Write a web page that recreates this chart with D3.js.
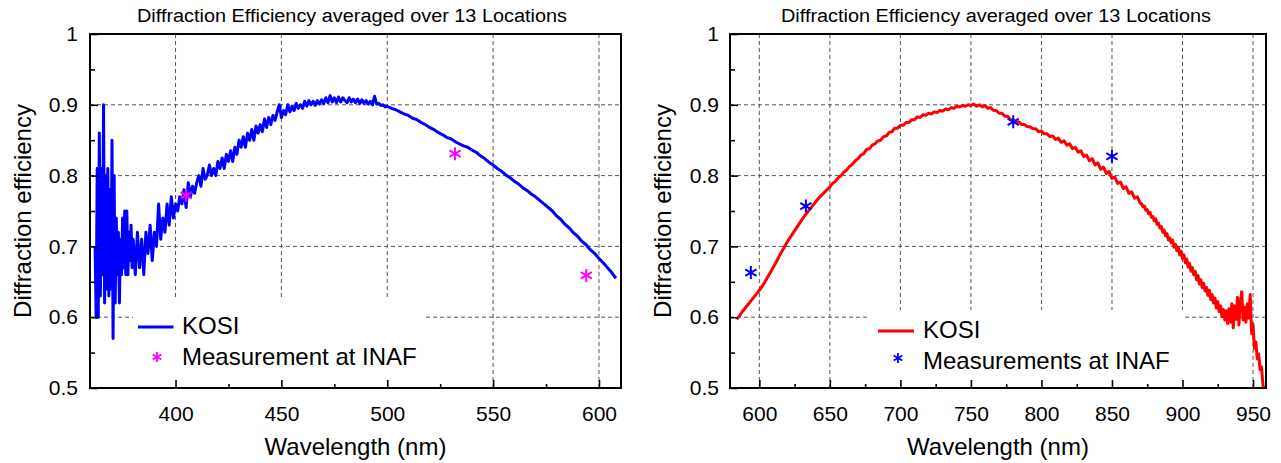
<!DOCTYPE html>
<html><head><meta charset="utf-8">
<script src="https://cdn.jsdelivr.net/npm/d3@7"></script>
<style>
html,body{margin:0;padding:0;background:#fff;}
svg{display:block;}
text{font-family:"Liberation Sans",Arial,sans-serif;fill:#000;}
</style></head><body>
<svg id="chart" width="1281" height="463"></svg>
<script>
// ---------------- DATA ----------------
// Left panel (visible grating): KOSI curve, sampled on a regular wavelength grid
// 362–380 nm, 0.5 nm step
const kosiVisNoisy = [0.70,0.60,0.81,0.60,0.86,0.63,0.81,0.66,0.90,0.62,0.80,0.64,0.81,0.63,0.78,0.64,0.85,0.57,0.80,0.62,
  0.74,0.66,0.72,0.62,0.71,0.66,0.74,0.67,0.75,0.66,0.75,0.66,0.72,0.68,0.73,0.67,0.71];
// 381–500 nm, 1 nm step
const kosiVisMid = [0.66,0.72,0.67,0.71,0.66,0.72,0.69,0.73,0.68,0.72,0.70,0.76,0.71,0.74,0.72,0.76,0.73,0.77,0.74,0.76,
  0.75,0.77,0.76,0.78,0.755,0.79,0.77,0.785,0.775,0.79,0.80,0.785,0.81,0.795,0.80,0.815,0.80,0.81,0.80,0.82,
  0.81,0.825,0.81,0.83,0.82,0.835,0.82,0.84,0.83,0.85,0.84,0.855,0.84,0.86,0.85,0.865,0.85,0.87,0.86,0.872,
  0.862,0.88,0.868,0.882,0.872,0.885,0.878,0.89,0.90,0.882,0.892,0.886,0.90,0.89,0.898,0.892,0.902,0.895,0.9,0.895,
  0.905,0.898,0.906,0.9,0.905,0.899,0.906,0.901,0.907,0.902,0.91,0.903,0.913,0.904,0.91,0.903,0.911,0.904,0.91,0.906,
  0.903,0.91,0.904,0.908,0.903,0.908,0.902,0.907,0.902,0.906,0.901,0.905,0.900,0.912,0.901,0.902,0.899,0.900,0.897,0.898];
// 502–608 nm, 2 nm step
const kosiVisTail = [0.895,0.893,0.890,0.887,0.885,0.881,0.879,0.875,0.872,0.868,0.865,0.861,0.858,0.854,0.852,0.848,0.845,0.842,0.840,0.836,
  0.833,0.828,0.824,0.819,0.815,0.810,0.806,0.801,0.797,0.792,0.788,0.783,0.779,0.774,0.770,0.765,0.760,0.755,0.750,0.743,
  0.738,0.731,0.726,0.719,0.714,0.707,0.702,0.695,0.690,0.683,0.677,0.670,0.663,0.655];
const inafVisWl = [405, 532, 594];
const inafVisDE = [0.772, 0.831, 0.659];

// Right panel (NIR grating)
// 584–870 nm, 2 nm step
const kosiNirBody = [0.597,0.602,0.608,0.613,0.618,0.623,0.628,0.633,0.638,0.644,0.650,0.657,0.664,0.671,0.678,0.686,0.693,0.700,0.707,0.713,
  0.719,0.725,0.731,0.737,0.743,0.748,0.753,0.758,0.763,0.768,0.772,0.776,0.780,0.784,0.789,0.792,0.797,0.800,0.805,0.808,
  0.813,0.816,0.821,0.824,0.829,0.831,0.837,0.838,0.843,0.845,0.849,0.850,0.855,0.856,0.861,0.862,0.867,0.867,0.871,0.871,
  0.875,0.875,0.879,0.879,0.883,0.882,0.886,0.885,0.888,0.887,0.890,0.889,0.892,0.891,0.894,0.893,0.896,0.895,0.898,0.897,
  0.899,0.898,0.900,0.899,0.901,0.898,0.900,0.897,0.899,0.895,0.896,0.892,0.892,0.888,0.888,0.884,0.884,0.879,0.879,0.875,
  0.876,0.872,0.872,0.869,0.869,0.866,0.866,0.862,0.863,0.859,0.859,0.855,0.856,0.851,0.853,0.847,0.849,0.843,0.845,0.838,
  0.840,0.833,0.835,0.827,0.829,0.821,0.824,0.815,0.818,0.809,0.812,0.803,0.806,0.796,0.798,0.789,0.791,0.782,0.784,0.775,
  0.777,0.768,0.770,0.761];
// 871–958 nm, 1 nm step
const kosiNirTail = [0.760,0.756,0.757,0.751,0.752,0.746,0.748,0.741,0.742,0.736,0.739,0.731,0.733,0.726,0.728,0.720,0.723,0.715,0.718,0.709,
  0.712,0.705,0.709,0.699,0.703,0.694,0.699,0.688,0.693,0.683,0.688,0.677,0.682,0.671,0.676,0.665,0.670,0.660,0.665,0.653,
  0.659,0.647,0.653,0.642,0.648,0.637,0.642,0.631,0.638,0.625,0.632,0.620,0.627,0.613,0.622,0.608,0.616,0.601,0.611,0.596,
  0.609,0.591,0.612,0.593,0.619,0.585,0.616,0.597,0.628,0.589,0.621,0.636,0.596,0.614,0.593,0.619,0.599,0.632,0.577,0.590,
  0.556,0.565,0.541,0.548,0.526,0.530,0.506,0.490];
const inafNirWl = [594, 633, 780, 850];
const inafNirDE = [0.663, 0.757, 0.876, 0.827];

// Ticks and labels
const yMajor = [0.5, 0.6, 0.7, 0.8, 0.9, 1];
const yMinor = [0.55, 0.65, 0.75, 0.85, 0.95];
const yGrid = [0.6, 0.7, 0.8, 0.9];
const xMajorVis = [400, 450, 500, 550, 600];
const xMinorVis = [425, 475, 525, 575];
const xMajorNir = [600, 650, 700, 750, 800, 850, 900, 950];
const xMinorNir = [625, 675, 725, 775, 825, 875, 925];
const titleText = "Diffraction Efficiency averaged over 13 Locations";
const xLabel = "Wavelength (nm)";
const yLabel = "Diffraction efficiency";
const seriesName = "KOSI";
const measNameVis = "Measurement at INAF";
const measNameNir = "Measurements at INAF";

// ---------------- DRAW ----------------
const svg = d3.select("#chart");
svg.append("rect").attr("width", 1281).attr("height", 463).attr("fill", "#fff");

function seg(start, step, vals) { return vals.map((v, i) => [start + i * step, v]); }
function asterisk(r) {
  const u = r * Math.cos(Math.PI / 6), t = r / 2;
  return `M0,${-r}L0,${r}M${-u},${-t}L${u},${t}M${-u},${t}L${u},${-t}`;
}

const yTop = 34, yBot = 388;
const y = d3.scaleLinear().domain([0.5, 1]).range([yBot, yTop]);

const panels = [
  { id: "vis", x0: 90, x1: 621, domain: [359.6, 610.4], major: xMajorVis, minor: xMinorVis,
    curve: [...seg(362, 0.5, kosiVisNoisy), ...seg(381, 1, kosiVisMid), ...seg(502, 2, kosiVisTail)],
    color: "#0000ff", mWl: inafVisWl, mDE: inafVisDE, mColor: "#ff00ff",
    titleX: 352, yLabX: 31, tickEnd: 78,
    leg: { rect: [133, 297, 426, 388], lx: [138, 173.5], ly: 327, tx: 182, kb: 334, sx: 157, sy: 357, mb: 365, name: measNameVis } },
  { id: "nir", x0: 730, x1: 1266, domain: [579.2, 959.2], major: xMajorNir, minor: xMinorNir,
    curve: [...seg(584, 2, kosiNirBody), ...seg(871, 1, kosiNirTail)],
    color: "#ff0000", mWl: inafNirWl, mDE: inafNirDE, mColor: "#0000ff",
    titleX: 996, yLabX: 671, tickEnd: 719,
    leg: { rect: [870, 310, 1184, 388], lx: [878, 914], ly: 331, tx: 923, kb: 338, sx: 898, sy: 358, mb: 369, name: measNameNir } }
];

panels.forEach(p => {
  const x = d3.scaleLinear().domain(p.domain).range([p.x0, p.x1]);
  const g = svg.append("g").attr("id", p.id);

  g.append("clipPath").attr("id", "clip-" + p.id)
    .append("rect").attr("x", p.x0).attr("y", yTop).attr("width", p.x1 - p.x0).attr("height", yBot - yTop);

  // grid
  const grid = g.append("g").attr("stroke", "#555").attr("stroke-width", 1).attr("stroke-dasharray", "4,3").attr("fill", "none");
  grid.selectAll("line.v").data(p.major).join("line").attr("class", "v")
    .attr("x1", d => x(d)).attr("x2", d => x(d)).attr("y1", yTop).attr("y2", yBot);
  grid.selectAll("line.h").data(yGrid).join("line").attr("class", "h")
    .attr("x1", p.x0).attr("x2", p.x1).attr("y1", d => y(d)).attr("y2", d => y(d));

  // legend background
  const L = p.leg;
  g.append("rect").attr("x", L.rect[0]).attr("y", L.rect[1]).attr("width", L.rect[2] - L.rect[0])
    .attr("height", L.rect[3] - L.rect[1] - 1).attr("fill", "#fff");

  // curve
  const line = d3.line().x(d => x(d[0])).y(d => y(d[1]));
  g.append("path").datum(p.curve).attr("clip-path", `url(#clip-${p.id})`)
    .attr("d", line).attr("fill", "none").attr("stroke", p.color).attr("stroke-width", 3)
    .attr("stroke-linejoin", "round");

  // measurements
  g.selectAll("path.m").data(p.mWl).join("path").attr("class", "m")
    .attr("transform", (d, i) => `translate(${x(d)},${y(p.mDE[i])})`)
    .attr("d", asterisk(6.5)).attr("stroke", p.mColor).attr("stroke-width", 2).attr("fill", "none");

  // axes (ticks inward)
  const xa = g.append("g").attr("transform", `translate(0,${yBot})`)
    .call(d3.axisBottom(x).tickValues(p.major).tickSize(-8).tickPadding(18).tickFormat(d3.format("d")));
  xa.select(".domain").remove();
  xa.selectAll("line").attr("stroke", "#000").attr("stroke-width", 1.6);
  xa.selectAll("text").attr("font-size", 21).attr("font-family", "Liberation Sans, Arial, sans-serif").attr("fill", "#000");
  const xm = g.append("g").attr("transform", `translate(0,${yBot})`)
    .call(d3.axisBottom(x).tickValues(p.minor).tickSize(-4).tickFormat(""));
  xm.select(".domain").remove();
  xm.selectAll("line").attr("stroke", "#000").attr("stroke-width", 1.6);

  const ya = g.append("g").attr("transform", `translate(${p.x0},0)`)
    .call(d3.axisLeft(y).tickValues(yMajor).tickSize(-8).tickPadding(p.x0 - p.tickEnd)
      .tickFormat(d => d === 1 ? "1" : d.toFixed(1)));
  ya.select(".domain").remove();
  ya.selectAll("line").attr("stroke", "#000").attr("stroke-width", 1.6);
  ya.selectAll("text").attr("font-size", 21).attr("font-family", "Liberation Sans, Arial, sans-serif").attr("fill", "#000");
  const ym = g.append("g").attr("transform", `translate(${p.x0},0)`)
    .call(d3.axisLeft(y).tickValues(yMinor).tickSize(-5).tickFormat(""));
  ym.select(".domain").remove();
  ym.selectAll("line").attr("stroke", "#000").attr("stroke-width", 1.6);

  // frame
  g.append("rect").attr("x", p.x0).attr("y", yTop).attr("width", p.x1 - p.x0).attr("height", yBot - yTop)
    .attr("fill", "none").attr("stroke", "#000").attr("stroke-width", 2);

  // title & axis labels
  g.append("text").attr("x", p.titleX).attr("y", 22).attr("text-anchor", "middle")
    .attr("font-size", 18).attr("textLength", 430).attr("lengthAdjust", "spacingAndGlyphs").text(titleText);
  g.append("text").attr("x", (p.x0 + p.x1) / 2).attr("y", 455).attr("text-anchor", "middle")
    .attr("font-size", 24).text(xLabel);
  g.append("text").attr("transform", `translate(${p.yLabX},${(yTop + yBot) / 2})rotate(-90)`)
    .attr("text-anchor", "middle").attr("font-size", 24).text(yLabel);

  // legend
  g.append("line").attr("x1", L.lx[0]).attr("x2", L.lx[1]).attr("y1", L.ly).attr("y2", L.ly)
    .attr("stroke", p.color).attr("stroke-width", 3);
  g.append("text").attr("x", L.tx).attr("y", L.kb).attr("font-size", 24).text(seriesName);
  g.append("path").attr("transform", `translate(${L.sx},${L.sy})`).attr("d", asterisk(5))
    .attr("stroke", p.mColor).attr("stroke-width", 1.8).attr("fill", "none");
  g.append("text").attr("x", L.tx).attr("y", L.mb).attr("font-size", 24).text(L.name);
});
</script>
</body></html>
